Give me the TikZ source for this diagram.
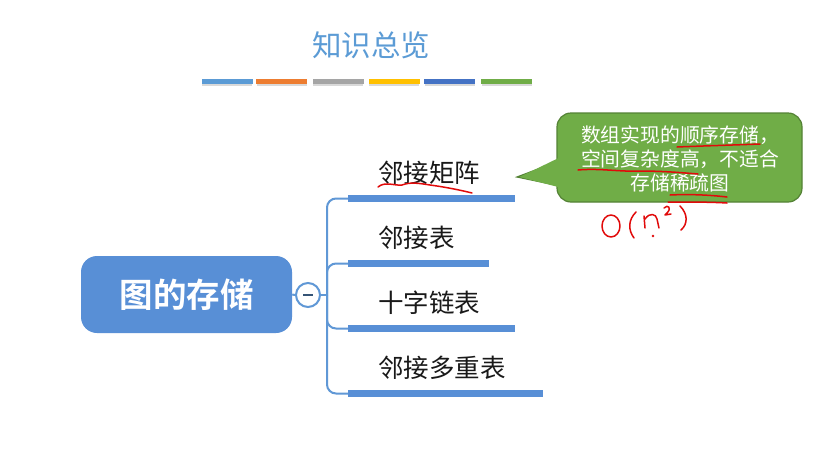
\documentclass[tikz,border=0pt]{standalone}
\usepackage{fontspec}
\setmainfont{Noto Sans CJK SC}
\newfontfamily\cjkbold[BoldFont={Noto Sans CJK SC Bold}]{Noto Sans CJK SC}
\definecolor{titleblue}{RGB}{91,155,213}
\definecolor{rootblue}{RGB}{88,143,214}
\definecolor{linkblue}{RGB}{96,152,214}
\definecolor{cbar1}{RGB}{91,155,213}
\definecolor{cbar2}{RGB}{237,125,49}
\definecolor{cbar3}{RGB}{165,165,165}
\definecolor{cbar4}{RGB}{255,192,0}
\definecolor{cbar5}{RGB}{68,114,196}
\definecolor{cbar6}{RGB}{112,173,71}
\definecolor{notegreen}{RGB}{112,173,71}
\definecolor{noteborder}{RGB}{84,130,53}
\definecolor{inkred}{RGB}{225,10,10}
\begin{document}
\begin{tikzpicture}[x=1pt,y=-1pt,
  colorbar/.style={fill=#1, draw=none, minimum width=50pt, minimum height=5pt, inner sep=0pt, outer sep=0pt},
  barshadow/.style={fill=black!15, draw=none, minimum width=50pt, minimum height=4pt, inner sep=0pt},
  branchbar/.style={fill=rootblue, draw=none, minimum height=7pt, inner sep=0pt, outer sep=0pt, anchor=west},
  leaf/.style={anchor=west, inner sep=0pt, font=\fontsize{25.5}{25.5}\selectfont, text=black!90},
  conn/.style={draw=linkblue, line width=2pt},
  ink/.style={draw=inkred, line width=1.5pt, line cap=round, line join=round},
]
\useasboundingbox (0,0) rectangle (832,448);
\fill[white] (0,0) rectangle (832,448);

% title
\node[text=titleblue, font=\fontsize{29.5}{29.5}\selectfont, inner sep=0pt] (title) at (371,45) {知识总览};

% color bars
\foreach \i/\x in {1/227,2/281.5,3/338,4/394,5/449.5,6/506.5}{
  \node[barshadow] at (\x,84) {};
  \node[colorbar=cbar\i, minimum width=51pt] (cb\i) at (\x,81) {};
}

% root node
\node[fill=rootblue, rounded corners=16pt, minimum width=211pt, minimum height=77pt, inner sep=0pt,
      text=white, font=\cjkbold\bfseries\fontsize{33.5}{33.5}\selectfont] (root) at (186.5,294.5) {图的存储};

% collapse circle
\node[circle, draw=linkblue, line width=2pt, fill=white, minimum size=24pt, inner sep=0pt] (fold) at (308,295) {};
\draw[draw=black!45!linkblue, line width=1.4pt] ([xshift=-5pt]fold.center) -- ([xshift=5pt]fold.center);

\coordinate (hub) at (327,295);

% bars
\node[branchbar, minimum width=167pt] (bar1) at (348,198.5) {};
\node[branchbar, minimum width=141pt] (bar2) at (348,263.5) {};
\node[branchbar, minimum width=167pt] (bar3) at (348,328.5) {};
\node[branchbar, minimum width=195pt] (bar4) at (348,393.5) {};

% labels
\node[leaf] (l1) at (378,173) {邻接矩阵};
\node[leaf] (l2) at (378,238) {邻接表};
\node[leaf] (l3) at (378,303) {十字链表};
\node[leaf] (l4) at (378,368) {邻接多重表};

% connectors
\draw[conn] (root.east) -- (fold.west);
\draw[conn] (fold.east) -- (hub);
\foreach \b in {bar1,bar2,bar3,bar4}{
  \draw[conn, rounded corners=9pt] (hub) |- (\b.west);
}

% callout
\coordinate (tip) at (517,177);
\path[fill=notegreen, draw=noteborder, line width=1.2pt] (570,157) -- (tip) -- (570,188) -- cycle;
\node[fill=notegreen, draw=noteborder, line width=1.2pt, rounded corners=14pt,
      minimum width=245pt, minimum height=89pt, inner sep=0pt] (note) at (679.5,157.5) {};
\fill[notegreen] (558.2,158.2) -- (519.5,177) -- (558.2,187) -- cycle;
\node[text=white, align=center, inner sep=0pt, font=\fontsize{19.8}{24}\selectfont] (notetext) at (680,159)
  {数组实现的顺序存储，\\空间复杂度高，不适合\\存储稀疏图};

% red handwriting
\draw[ink] (378,187) .. controls (385,181) and (395,186) .. (402,185) .. controls (410,182) and (418,183) .. (430,185) .. controls (445,187) and (460,190) .. (472,193);
\draw[ink] (677,147) .. controls (700,146) and (735,145) .. (760,144);
\draw[ink] (578,170) .. controls (600,168) and (620,172) .. (640,171) .. controls (665,171) and (685,173) .. (698,174);
\draw[ink] (670,195) .. controls (690,194) and (710,195) .. (727,197);
\draw[ink] (668,202) .. controls (690,202) and (710,202) .. (727,203);
\draw[ink] (611,226) ellipse (9pt and 11pt);
\draw[ink] (636,212) .. controls (628,220) and (628,230) .. (634,238);
\draw[ink] (644,216) -- (645,228);
\draw[ink] (645,219) .. controls (650,212) and (656,214) .. (657,219) -- (659,228);
\draw[ink] (664,208) .. controls (668,204) and (672,208) .. (667,213) -- (665,215) -- (671,214);
\draw[ink] (680,206) .. controls (688,214) and (688,224) .. (681,230);
\fill[inkred] (653,236) circle (1.3pt);
\end{tikzpicture}
\end{document}
